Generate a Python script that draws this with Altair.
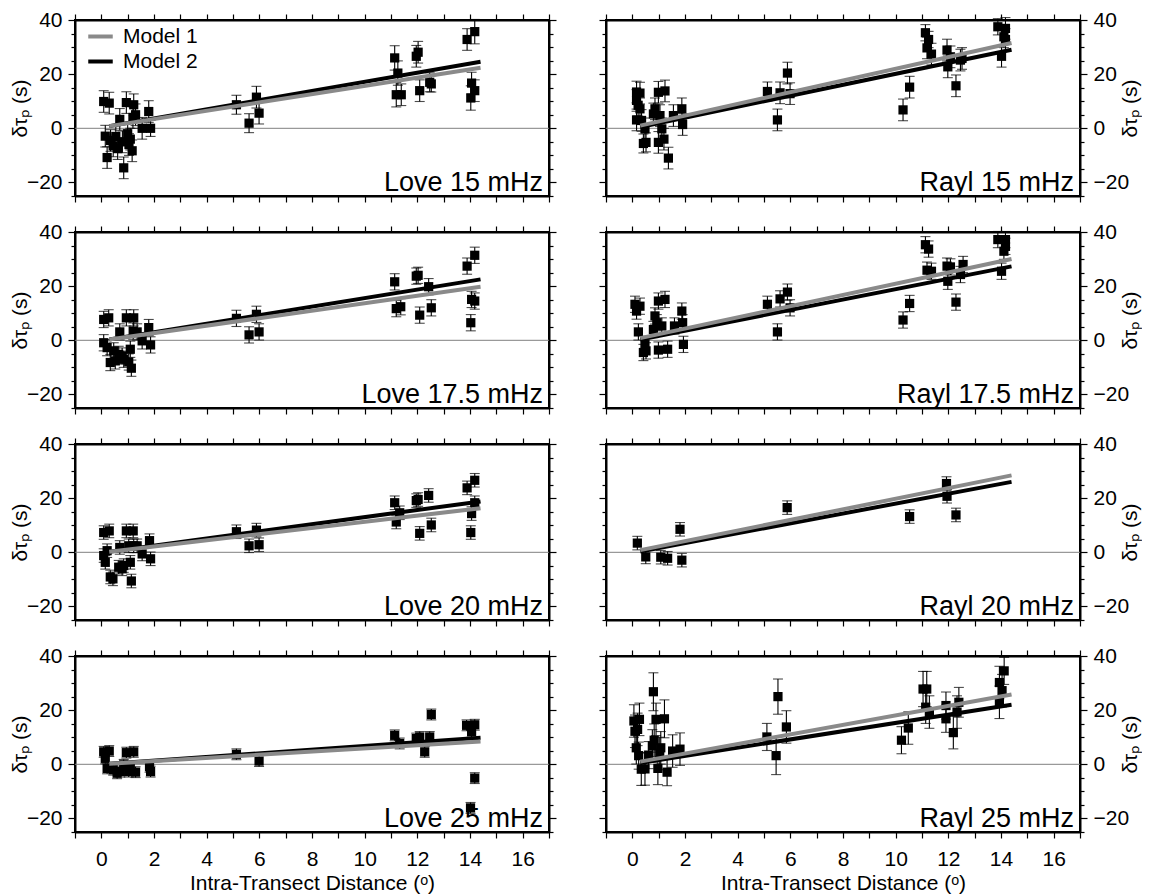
import altair as alt
import pandas as pd

FONT = "Liberation Sans"
W, H = 474, 176
XDOM = [-1, 17]
YDOM = [-25, 40]

panel_titles = ["Love 15 mHz", "Rayl 15 mHz", "Love 17.5 mHz", "Rayl 17.5 mHz",
                "Love 20 mHz", "Rayl 20 mHz", "Love 25 mHz", "Rayl 25 mHz"]
model_names = ["Model 1", "Model 2"]
model_colors = ["#8a8a8a", "#000000"]
x_title = "Intra-Transect Distance (\u1d52)"
y_title = "\u03b4\u03c4\u209a (s)"

# ---- Love 15 mHz
love15_x = [0.09, 0.30, 0.15, 0.22, 0.35, 0.45, 0.55, 0.70, 0.62, 0.80, 0.85, 0.95, 1.00, 1.05, 1.10, 1.17, 1.23, 1.30, 1.20, 1.55,
            1.80, 1.87, 5.13, 5.61, 5.89, 5.99, 11.14, 11.20, 11.39, 11.26, 11.96, 12.03, 12.09, 12.47, 12.53, 13.89, 14.18, 14.06, 14.18, 14.03]
love15_y = [9.9, 9.3, -2.9, -10.8, -4.5, -6.5, -3.0, 3.3, -7.5, -5.0, -14.6, 9.5, -2.0, -6.0, -4.0, -8.3, 8.7, 5.0, 4.0, 0.0,
            6.2, 0.0, 8.7, 1.9, 11.5, 5.6, 26.0, 12.4, 12.4, 20.4, 26.6, 28.1, 13.9, 17.0, 16.4, 32.8, 35.7, 16.7, 13.9, 11.2]
love15_e = [4, 4, 4, 4, 4, 4, 4, 4, 4, 4, 4, 4, 4, 4, 4, 4, 4, 4, 4, 4,
            4, 3, 3.5, 3.5, 4, 4, 4.5, 4.5, 4, 4.5, 4, 4, 4, 3.5, 3, 4, 4.5, 4, 4, 4.5]

# ---- Rayl 15 mHz
rayl15_x = [0.16, 0.29, 0.16, 0.22, 0.29, 0.16, 0.35, 0.42, 0.52, 0.48, 0.80, 0.86, 0.99, 1.24, 0.99, 1.20, 1.37, 1.05, 1.12, 1.56,
            1.88, 1.91, 5.13, 5.51, 5.61, 5.89, 5.99, 10.28, 10.53, 11.13, 11.25, 11.19, 11.36, 11.95, 11.98, 12.08, 12.29, 12.46, 12.52, 13.88,
            14.17, 14.11, 14.17, 14.02]
rayl15_y = [13.4, 13.0, 10.3, 8.5, 7.2, 3.1, 2.9, -5.6, -5.2, -0.2, 5.3, 7.2, 13.3, 13.8, -5.2, -4.0, -11.0, 4.7, -0.2, 4.7,
            7.2, 1.4, 13.6, 3.1, 13.1, 20.4, 12.8, 6.8, 15.2, 35.3, 32.8, 29.7, 27.4, 28.9, 22.7, 26.4, 15.7, 25.2, 25.8, 37.5,
            36.9, 33.8, 32.8, 26.6]
rayl15_e = [4, 4, 4, 4, 4, 4, 4, 3.5, 3.5, 4, 4, 4, 4, 4, 4, 4, 4, 4, 4, 4,
            4, 4, 3.5, 4, 4, 4, 4, 4, 4, 3, 3, 4, 4, 4, 4, 4, 4, 4, 4, 3,
            4, 4, 4, 4]

# ---- Love 17.5 mHz
love175_x = [0.09, 0.28, 0.09, 0.22, 0.34, 0.47, 0.53, 0.70, 0.66, 0.79, 0.85, 0.95, 1.04, 1.10, 1.14, 1.21, 1.23, 1.36, 1.55, 1.80,
             1.87, 5.13, 5.61, 5.89, 5.99, 11.14, 11.20, 11.37, 11.96, 12.03, 12.09, 12.43, 12.53, 13.89, 14.18, 14.06, 14.18, 14.03]
love175_y = [7.7, 8.3, -0.9, -2.7, -8.2, -3.9, -7.6, 3.1, -5.2, -5.8, -7.0, 8.3, -8.0, -3.3, -10.3, 3.4, 8.3, 3.1, -0.2, 4.7,
             -1.7, 8.1, 2.0, 9.6, 3.1, 21.6, 11.7, 12.4, 23.7, 24.0, 9.3, 19.8, 12.0, 27.4, 31.4, 15.1, 14.5, 6.5]
love175_e = [3] * 38

# ---- Rayl 17.5 mHz
rayl175_x = [0.10, 0.29, 0.16, 0.23, 0.42, 0.52, 0.48, 0.80, 0.86, 0.93, 0.99, 1.24, 0.99, 1.34, 1.12, 1.60, 1.88, 1.91, 1.94, 5.13,
             5.51, 5.61, 5.89, 5.99, 10.28, 10.53, 11.13, 11.25, 11.19, 11.36, 11.95, 11.98, 12.08, 12.29, 12.46, 12.56, 13.88, 14.17, 14.11, 14.17,
             14.02]
rayl175_y = [13.3, 12.6, 10.8, 3.1, -4.5, -3.9, -1.5, 4.0, 9.0, 6.5, 14.5, 15.1, -3.6, -3.3, 5.3, 5.3, 10.8, 6.5, -1.5, 13.3,
             3.1, 15.3, 17.8, 12.0, 7.5, 13.6, 35.3, 33.7, 25.9, 25.5, 27.4, 21.8, 27.1, 14.1, 24.3, 28.0, 37.2, 37.2, 32.9, 34.7,
             25.5]
rayl175_e = [3] * 41

# ---- Love 20 mHz
love20_x = [0.09, 0.30, 0.09, 0.15, 0.22, 0.34, 0.44, 0.70, 0.66, 0.79, 0.85, 0.95, 1.04, 1.10, 1.14, 1.21, 1.23, 1.36, 1.55, 1.83,
            1.87, 5.13, 5.61, 5.89, 5.99, 11.14, 11.20, 11.33, 11.96, 12.03, 12.09, 12.43, 12.53, 13.89, 14.18, 14.06, 14.18, 14.03]
love20_y = [7.3, 7.9, -1.2, -3.7, 0.6, -9.1, -9.8, 1.8, -5.5, -6.1, -4.9, 7.9, 2.4, -3.7, -10.6, 7.9, 2.4, 2.4, -0.6, 4.3,
            -2.4, 7.6, 2.4, 8.2, 2.8, 18.3, 11.2, 14.6, 19.1, 19.5, 7.0, 21.0, 10.1, 23.8, 26.6, 14.3, 18.3, 7.3]
love20_e = [2.5] * 38

# ---- Rayl 20 mHz
rayl20_x = [0.19, 0.51, 1.08, 1.34, 1.81, 1.88, 5.88, 10.53, 11.93, 11.95, 12.29]
rayl20_y = [3.4, -1.7, -1.8, -2.2, 8.5, -2.9, 16.5, 13.2, 25.4, 20.7, 13.8]
rayl20_e = [2.5] * 11

# ---- Love 25 mHz
love25_x = [0.09, 0.30, 0.15, 0.22, 0.45, 0.60, 0.72, 0.85, 0.95, 1.04, 1.23, 1.30, 1.10, 1.83, 1.87, 5.13, 5.99, 11.14, 11.33, 11.96,
            12.09, 12.28, 12.47, 12.53, 13.87, 14.18, 14.06, 14.18, 14.02]
love25_y = [4.6, 4.9, 2.2, -1.5, -2.0, -3.3, -2.7, -0.2, 4.3, -2.7, 4.6, -2.9, -1.5, -0.9, -2.7, 3.7, 1.2, 10.7, 7.7, 9.5,
            10.1, 4.6, 10.1, 18.4, 14.4, 14.6, 12.0, -5.1, -16.1]
love25_e = [2] * 29

# ---- Rayl 25 mHz
rayl25_x = [0.06, 0.27, 0.10, 0.20, 0.15, 0.24, 0.34, 0.48, 0.62, 0.80, 0.90, 0.83, 0.76, 0.97, 1.22, 1.08, 1.04, 1.32, 1.53, 1.81,
            5.11, 5.46, 5.53, 5.85, 10.22, 10.48, 11.04, 11.18, 11.14, 11.28, 11.91, 11.91, 12.19, 12.33, 12.40, 13.94, 14.12, 14.04, 13.94]
rayl25_y = [16.0, 16.6, 12.2, 12.9, 6.1, 3.2, -1.8, -1.7, 3.4, 26.8, 16.6, 8.9, 6.8, -1.5, 16.8, 6.1, 4.0, -2.9, 4.9, 5.6,
            10.1, 3.2, 25.0, 13.8, 8.9, 13.4, 27.8, 27.8, 21.1, 19.3, 21.7, 16.8, 11.7, 19.3, 22.9, 30.2, 34.5, 27.2, 22.9]
rayl25_e = [6, 6, 6, 6, 6, 5, 6, 6, 5, 7, 6, 6, 6, 6, 7, 6, 6, 5, 6, 6,
            5, 7, 6.5, 6, 5, 6, 6.5, 6.5, 6, 6, 5, 5, 6, 6, 5.5, 6, 5, 6, 6]

# ---- regression lines (Model 1, Model 2), evaluated at line_x
line_x = [0.3, 14.4]
m1_lines = [[0.8, 22.4], [1.0, 31.5], [0.3, 19.8], [0.8, 30.0], [0.2, 16.3], [0.8, 28.4], [0.2, 8.4], [1.0, 25.8]]
m2_lines = [[0.8, 24.6], [0.5, 29.0], [0.3, 22.5], [0.3, 27.3], [0.2, 18.8], [0.3, 26.0], [0.2, 9.8], [0.5, 22.0]]

panels_x = [love15_x, rayl15_x, love175_x, rayl175_x, love20_x, rayl20_x, love25_x, rayl25_x]
panels_y = [love15_y, rayl15_y, love175_y, rayl175_y, love20_y, rayl20_y, love25_y, rayl25_y]
panels_e = [love15_e, rayl15_e, love175_e, rayl175_e, love20_e, rayl20_e, love25_e, rayl25_e]

x_ticks = [v / 2 for v in range(-2, 35)]
y_ticks = list(range(-25, 41, 5))

xsc = alt.Scale(domain=XDOM, nice=False, zero=False)
ysc = alt.Scale(domain=YDOM, nice=False, zero=False)
csc = alt.Scale(domain=model_names, range=model_colors)

common = dict(grid=False, domainColor="black", domainWidth=2, tickColor="black", tickWidth=1.2,
              labelFlush=False, labelOverlap=False, format="d")


def x_axis(orient, labels):
    kw = dict(common, orient=orient, values=x_ticks,
              tickSize={"condition": {"test": "datum.value % 1 == 0", "value": 6}, "value": 3})
    if labels:
        kw.update(labels=True, labelExpr="datum.value % 2 == 0 ? datum.label : ''",
                  labelFontSize=21, labelFont=FONT, labelColor="black", labelPadding=10,
                  title=x_title, titleFont=FONT, titleFontSize=21, titleFontWeight="normal",
                  titleColor="black", titlePadding=3)
    else:
        kw.update(labels=False, title=None)
    return alt.Axis(**kw)


def y_axis(orient, labels):
    kw = dict(common, orient=orient, values=y_ticks,
              tickSize={"condition": {"test": "datum.value % 20 == 0", "value": 7}, "value": 4})
    if labels:
        kw.update(labels=True, labelExpr="datum.value % 20 == 0 ? datum.label : ''",
                  labelFontSize=21, labelFont=FONT, labelColor="black", labelPadding=6,
                  title=y_title, titleFont=FONT, titleFontSize=21, titleFontWeight="normal",
                  titleColor="black", titlePadding=(-4 if orient == "left" else 12), titleAngle=270)
    else:
        kw.update(labels=False, title=None)
    return alt.Axis(**kw)


def make_panel(i):
    col, row = i % 2, i // 2
    xs, ys, es = panels_x[i], panels_y[i], panels_e[i]
    df = pd.DataFrame({"x": xs, "y": ys,
                       "lo": [y - e for y, e in zip(ys, es)],
                       "hi": [y + e for y, e in zip(ys, es)]})
    d1 = pd.DataFrame({"lx": line_x, "ly": m1_lines[i], "model": model_names[0]})
    d2 = pd.DataFrame({"lx": line_x, "ly": m2_lines[i], "model": model_names[1]})
    bottom = row == 3
    main_y = "left" if col == 0 else "right"
    opp_y = "right" if col == 0 else "left"

    zero = alt.Chart(pd.DataFrame({"z": [0]})).mark_rule(color="#808080", strokeWidth=1).encode(
        y=alt.Y("z:Q", scale=ysc, axis=None))
    err = alt.Chart(df).mark_errorbar(ticks=True, size=10, thickness=1.1, color="black").encode(
        x=alt.X("x:Q", scale=xsc, axis=x_axis("top", False)),
        y=alt.Y("lo:Q", scale=ysc, axis=y_axis(opp_y, False)),
        y2="hi:Q")
    pts = alt.Chart(df).mark_square(size=85, color="black", opacity=1).encode(
        x=alt.X("x:Q", scale=xsc, axis=x_axis("bottom", bottom)),
        y=alt.Y("y:Q", scale=ysc, axis=y_axis(main_y, True)))
    if i == 0:
        leg = alt.Legend(orient="none", legendX=11, legendY=2, title=None, symbolType="stroke",
                         symbolStrokeWidth=4, symbolSize=600, labelFontSize=21, labelFont=FONT,
                         labelColor="black", padding=0, rowPadding=0, labelOffset=8)
    else:
        leg = None
    lines = []
    for d in (d2, d1):
        lines.append(alt.Chart(d).mark_line(strokeWidth=4).encode(
            x=alt.X("lx:Q", scale=xsc, axis=None),
            y=alt.Y("ly:Q", scale=ysc, axis=None),
            color=alt.Color("model:N", scale=csc, legend=leg)))
    label = alt.Chart(pd.DataFrame({"t": [panel_titles[i]]})).mark_text(
        align="right", baseline="alphabetic", fontSize=27, font=FONT, color="black").encode(
        x=alt.value(W - 6), y=alt.value(H - 5), text="t:N")
    return alt.layer(zero, err, pts, *lines, label).resolve_axis(
        x="independent", y="independent").properties(width=W, height=H)


chart = (alt.concat(*[make_panel(i) for i in range(8)], columns=2,
                    spacing={"row": 36, "column": 57}, bounds="flush")
         .resolve_scale(color="independent").resolve_legend(color="independent")
         .properties(padding={"left": 0, "top": 0, "right": 0, "bottom": 0})
         .configure(font=FONT)
         .configure_view(stroke="black", strokeWidth=2))

chart.save("out.html", embed_options={"renderer": "svg", "actions": False})
